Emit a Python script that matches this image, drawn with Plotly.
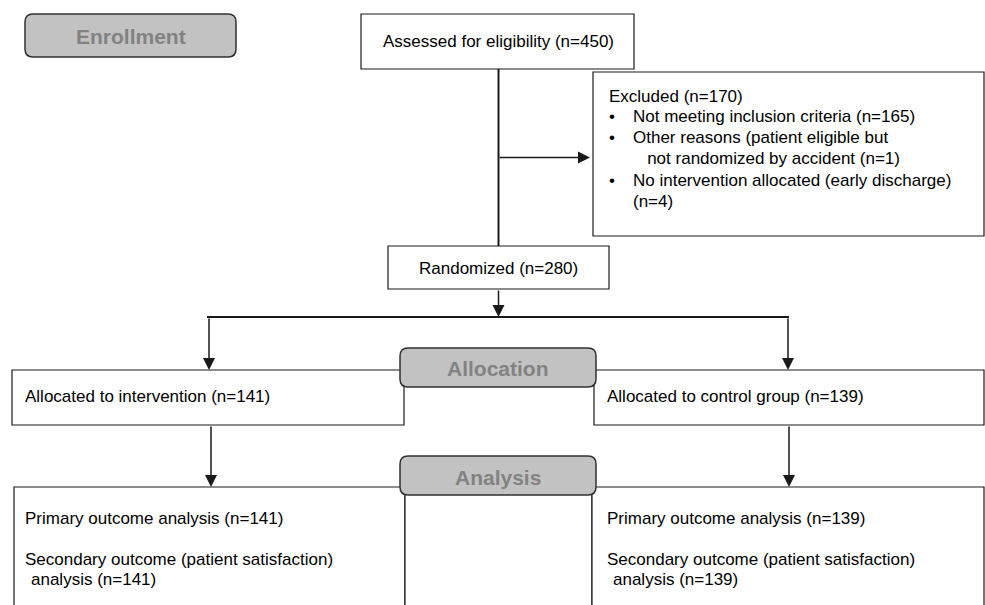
import plotly.graph_objects as go

# ---- Content (text of the flow diagram) ----
stage_labels = ["Enrollment", "Allocation", "Analysis"]
assessed_n = 450
excluded_n = 170
excluded_reasons = [
    ("•", "Not meeting inclusion criteria (n=165)"),
    ("•", "Other reasons (patient eligible but"),
    ("", "  not randomized by accident (n=1)"),
    ("•", "No intervention allocated (early discharge)"),
    ("", "(n=4)"),
]
randomized_n = 280
arm_names = ["intervention", "control group"]
arm_n = [141, 139]

FONT = "Liberation Sans, Arial, Helvetica, sans-serif"
LINE = "#1a1a1a"

fig = go.Figure()
shapes = []
annotations = []


def rect(x0, y0, x1, y1, width=1.2):
    shapes.append(dict(type="rect", x0=x0, y0=y0, x1=x1, y1=y1, xref="x", yref="y",
                       line=dict(color=LINE, width=width), fillcolor="white", layer="above"))


def rounded(x0, y0, x1, y1, r=8):
    p = (f"M {x0+r},{y0} L {x1-r},{y0} Q {x1},{y0} {x1},{y0+r} "
         f"L {x1},{y1-r} Q {x1},{y1} {x1-r},{y1} L {x0+r},{y1} Q {x0},{y1} {x0},{y1-r} "
         f"L {x0},{y0+r} Q {x0},{y0} {x0+r},{y0} Z")
    shapes.append(dict(type="path", path=p, xref="x", yref="y",
                       line=dict(color="#303030", width=1.5), fillcolor="#c2c2c2", layer="above"))


def line(x0, y0, x1, y1, width=1.6):
    shapes.append(dict(type="line", x0=x0, y0=y0, x1=x1, y1=y1, xref="x", yref="y",
                       line=dict(color=LINE, width=width), layer="above"))


def arrow(x0, y0, x1, y1):
    annotations.append(dict(x=x1, y=y1, ax=x0, ay=y0, xref="x", yref="y", axref="x", ayref="y",
                            showarrow=True, arrowhead=2, arrowsize=1.6, arrowwidth=1.5,
                            arrowcolor=LINE, text=""))


def text(x, y, s, anchor="left", size=17, color="black", bold=False):
    if bold:
        s = f"<b>{s}</b>"
    annotations.append(dict(x=x, y=y, xref="x", yref="y", text=s, showarrow=False,
                            xanchor=anchor, yanchor="middle",
                            font=dict(family=FONT, size=size, color=color)))


# connectors
line(498.5, 69, 498.5, 246, 2)
arrow(498, 157.5, 590, 157.5)
arrow(498.5, 289, 498.5, 317)
line(207, 317, 789, 317, 2)
arrow(209, 317, 209, 370)
arrow(788, 317, 788, 370)
arrow(211, 425, 211, 487)
arrow(789, 425, 789, 487)

# boxes
rect(361, 14, 634, 69)
rect(593, 72, 984, 236)
rect(388, 246, 609, 289)
rect(12, 370, 404, 425)
rect(594, 370, 984, 425)
rect(14, 487, 405, 640)
rect(405, 490, 592, 640)
rect(592, 487, 984, 640)

# stage labels
rounded(25, 14, 236, 57)
rounded(400, 348, 596, 387)
rounded(400, 456, 596, 495)
stage_pos = [(131, 36), (498, 368), (498, 477)]
for lab, (x, y) in zip(stage_labels, stage_pos):
    text(x, y, lab, anchor="center", size=21, color="#828282", bold=True)

# texts
text(498, 41, f"Assessed for eligibility (n={assessed_n})", anchor="center")
text(607, 96, f"Excluded (n={excluded_n})")
ys = [116, 137, 158, 180, 201]
for (b, s), y in zip(excluded_reasons, ys):
    if b:
        text(607, y, b)
    text(631, y, s.replace("  ", "&nbsp;&nbsp;&nbsp;"))
text(498, 268, f"Randomized (n={randomized_n})", anchor="center")

text(23, 396, f"Allocated to {arm_names[0]} (n={arm_n[0]})")
text(605, 396, f"Allocated to {arm_names[1]} (n={arm_n[1]})")

for x0, n in [(23, arm_n[0]), (605, arm_n[1])]:
    text(x0, 518, f"Primary outcome analysis (n={n})")
    text(x0, 559, "Secondary outcome (patient satisfaction)")
    text(x0 + 6, 579, f"analysis (n={n})")

fig.update_layout(
    width=985, height=605,
    margin=dict(l=0, r=0, t=0, b=0),
    paper_bgcolor="white", plot_bgcolor="white",
    xaxis=dict(range=[0, 985], visible=False, fixedrange=True),
    yaxis=dict(range=[605, 0], visible=False, fixedrange=True),
    shapes=shapes, annotations=annotations, showlegend=False,
)
fig.write_html("out.html", config={"displayModeBar": False},
               post_script="document.body.style.margin='0';document.body.style.overflow='hidden';")
